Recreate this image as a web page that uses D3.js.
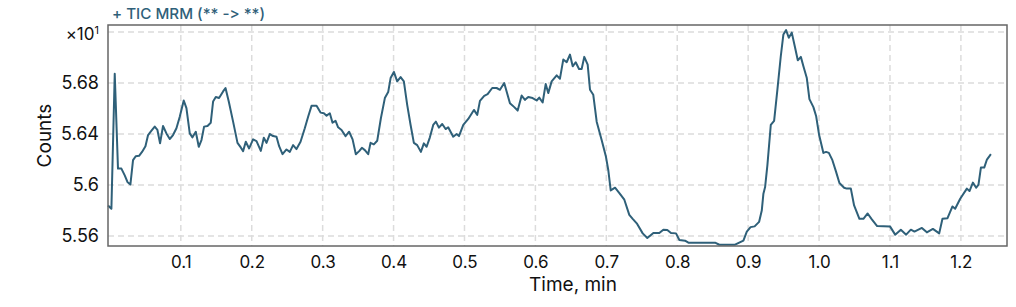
<!DOCTYPE html>
<html>
<head>
<meta charset="utf-8">
<script src="https://cdn.jsdelivr.net/npm/d3@7"></script>
<style>
  html, body { margin: 0; padding: 0; background: #fff; }
  svg { display: block; font-family: Inter, "Liberation Sans", sans-serif; font-feature-settings: "calt" 0, "liga" 0; font-variant-ligatures: none; }
</style>
</head>
<body>
<div id="chart"></div>
<script>
// chart values
const title = '+ TIC MRM (** -> **)';
const xLabel = 'Time, min';
const yLabel = 'Counts';
const xTicks = [0.1, 0.2, 0.3, 0.4, 0.5, 0.6, 0.7, 0.8, 0.9, 1.0, 1.1, 1.2];
const yTicks = [5.56, 5.6, 5.64, 5.68];
const yGrid = [5.56, 5.6, 5.64, 5.68, 5.72];
const yExponent = 1;

const times = [
  -0.0027, 0.0021, 0.0068, 0.0114, 0.0162, 0.0209, 0.0247, 0.0289, 0.0326, 0.0364,
  0.0411, 0.0453, 0.0501, 0.0538, 0.0586, 0.0632, 0.0670, 0.0707, 0.0749, 0.0797,
  0.0844, 0.0890, 0.0938, 0.0985, 0.1041, 0.1079, 0.1126, 0.1164, 0.1211, 0.1253,
  0.1291, 0.1328, 0.1376, 0.1422, 0.1455, 0.1493, 0.1539, 0.1596, 0.1630, 0.1676,
  0.1737, 0.1799, 0.1845, 0.1878, 0.1916, 0.1963, 0.2019, 0.2067, 0.2128, 0.2170,
  0.2208, 0.2255, 0.2301, 0.2349, 0.2386, 0.2434, 0.2490, 0.2537, 0.2583, 0.2631,
  0.2688, 0.2748, 0.2795, 0.2843, 0.2914, 0.2970, 0.3017, 0.3055, 0.3101, 0.3139,
  0.3182, 0.3218, 0.3266, 0.3323, 0.3373, 0.3422, 0.3468, 0.3515, 0.3553, 0.3595,
  0.3642, 0.3675, 0.3722, 0.3769, 0.3821, 0.3877, 0.3924, 0.3958, 0.4004, 0.4051,
  0.4099, 0.4145, 0.4192, 0.4240, 0.4286, 0.4333, 0.4385, 0.4427, 0.4466, 0.4512,
  0.4559, 0.4597, 0.4639, 0.4686, 0.4734, 0.4770, 0.4841, 0.4889, 0.4922, 0.4983,
  0.5053, 0.5133, 0.5180, 0.5218, 0.5278, 0.5326, 0.5391, 0.5453, 0.5500, 0.5560,
  0.5641, 0.5702, 0.5750, 0.5806, 0.5853, 0.5899, 0.5961, 0.6018, 0.6054, 0.6102,
  0.6145, 0.6181, 0.6229, 0.6300, 0.6346, 0.6393, 0.6441, 0.6487, 0.6526, 0.6568,
  0.6615, 0.6652, 0.6689, 0.6737, 0.6770, 0.6816, 0.6864, 0.6934, 0.6995, 0.7028,
  0.7062, 0.7123, 0.7184, 0.7254, 0.7324, 0.7372, 0.7429, 0.7513, 0.7578, 0.7663,
  0.7747, 0.7804, 0.7860, 0.7912, 0.7983, 0.8030, 0.8110, 0.8157, 0.8533, 0.8594,
  0.8815, 0.8933, 0.8981, 0.9034, 0.9091, 0.9154, 0.9192, 0.9215, 0.9239, 0.9271,
  0.9319, 0.9366, 0.9412, 0.9460, 0.9497, 0.9535, 0.9573, 0.9615, 0.9662, 0.9700,
  0.9743, 0.9779, 0.9827, 0.9864, 0.9920, 0.9958, 1.0001, 1.0061, 1.0099, 1.0138,
  1.0188, 1.0240, 1.0287, 1.0353, 1.0391, 1.0448, 1.0494, 1.0569, 1.0625, 1.0685,
  1.0744, 1.0819, 1.1002, 1.1073, 1.1153, 1.1228, 1.1294, 1.1345, 1.1450, 1.1520,
  1.1605, 1.1694, 1.1740, 1.1811, 1.1881, 1.1919, 1.1990, 1.2084, 1.2121, 1.2169,
  1.2216, 1.2248, 1.2282, 1.2329, 1.2367, 1.2423
];

const counts = [
  5.5840, 5.5814, 5.6873, 5.6129, 5.6129, 5.6076, 5.6024, 5.6005, 5.6195, 5.6226,
  5.6229, 5.6260, 5.6305, 5.6392, 5.6426, 5.6458, 5.6432, 5.6327, 5.6463, 5.6405,
  5.6361, 5.6392, 5.6445, 5.6536, 5.6663, 5.6603, 5.6405, 5.6374, 5.6418, 5.6300,
  5.6353, 5.6458, 5.6463, 5.6489, 5.6655, 5.6690, 5.6682, 5.6734, 5.6761, 5.6655,
  5.6497, 5.6331, 5.6295, 5.6266, 5.6339, 5.6287, 5.6358, 5.6345, 5.6268, 5.6371,
  5.6331, 5.6400, 5.6384, 5.6379, 5.6305, 5.6242, 5.6279, 5.6260, 5.6313, 5.6282,
  5.6339, 5.6445, 5.6536, 5.6621, 5.6621, 5.6568, 5.6563, 5.6544, 5.6563, 5.6489,
  5.6503, 5.6453, 5.6432, 5.6384, 5.6418, 5.6358, 5.6242, 5.6266, 5.6292, 5.6274,
  5.6242, 5.6331, 5.6319, 5.6347, 5.6524, 5.6682, 5.6729, 5.6839, 5.6887, 5.6813,
  5.6847, 5.6813, 5.6629, 5.6471, 5.6331, 5.6313, 5.6260, 5.6327, 5.6300, 5.6374,
  5.6471, 5.6497, 5.6450, 5.6479, 5.6439, 5.6453, 5.6379, 5.6400, 5.6384, 5.6471,
  5.6518, 5.6589, 5.6550, 5.6660, 5.6700, 5.6713, 5.6761, 5.6761, 5.6747, 5.6800,
  5.6642, 5.6611, 5.6584, 5.6702, 5.6668, 5.6690, 5.6682, 5.6663, 5.6686, 5.6647,
  5.6792, 5.6721, 5.6813, 5.6860, 5.6834, 5.6984, 5.6963, 5.7023, 5.6931, 5.6963,
  5.6910, 5.6910, 5.7005, 5.6944, 5.6747, 5.6708, 5.6497, 5.6353, 5.6221, 5.6116,
  5.5958, 5.5979, 5.5937, 5.5885, 5.5766, 5.5735, 5.5700, 5.5621, 5.5585, 5.5624,
  5.5624, 5.5650, 5.5648, 5.5624, 5.5621, 5.5569, 5.5564, 5.5548, 5.5548, 5.5532,
  5.5532, 5.5564, 5.5635, 5.5670, 5.5676, 5.5711, 5.5800, 5.5932, 5.5984, 5.6155,
  5.6471, 5.6503, 5.6747, 5.7010, 5.7181, 5.7215, 5.7155, 5.7195, 5.7076, 5.6978,
  5.7005, 5.6931, 5.6839, 5.6674, 5.6611, 5.6542, 5.6392, 5.6252, 5.6260, 5.6252,
  5.6195, 5.6103, 5.6016, 5.5979, 5.5972, 5.5972, 5.5840, 5.5735, 5.5735, 5.5777,
  5.5731, 5.5678, 5.5674, 5.5611, 5.5650, 5.5611, 5.5650, 5.5635, 5.5664, 5.5629,
  5.5656, 5.5621, 5.5735, 5.5740, 5.5832, 5.5814, 5.5893, 5.5972, 5.5953, 5.6019,
  5.5979, 5.6003, 5.6137, 5.6137, 5.6200, 5.6242
];

const width = 1016, height = 307;
const margin = {top: 25, right: 9, bottom: 61, left: 108};
const lineColor = '#2f6079';
const textFont = 'Inter, "Liberation Sans", sans-serif';

const svg = d3.select('#chart').append('svg')
  .attr('width', width)
  .attr('height', height);

const x = d3.scaleLinear()
  .domain([-0.0027, 1.265])
  .range([margin.left, width - margin.right]);
const y = d3.scaleLinear()
  .domain([5.5522, 5.7255])
  .range([height - margin.bottom, margin.top]);

// grid
svg.append('g')
  .attr('class', 'grid-x')
  .selectAll('line')
  .data(xTicks)
  .enter()
    .append('line')
      .attr('x1', d => x(d)).attr('x2', d => x(d))
      .attr('y1', margin.top).attr('y2', height - margin.bottom)
      .attr('stroke', '#dcdcdc')
      .attr('stroke-width', 1.5)
      .attr('stroke-dasharray', '6,4');
svg.append('g')
  .attr('class', 'grid-y')
  .selectAll('line')
  .data(yGrid)
  .enter()
    .append('line')
      .attr('x1', margin.left).attr('x2', width - margin.right)
      .attr('y1', d => y(d)).attr('y2', d => y(d))
      .attr('stroke', '#dcdcdc')
      .attr('stroke-width', 1.5)
      .attr('stroke-dasharray', '6,4');

// axes, labels only
const xAxis = svg.append('g')
  .attr('transform', `translate(0,${height - margin.bottom})`)
  .call(d3.axisBottom(x).tickValues(xTicks).tickSize(0).tickPadding(10).tickFormat(d3.format('.1f')));
xAxis.select('.domain').remove();
xAxis.selectAll('text')
  .attr('font-family', textFont)
  .style('font-size', '17px')
  .attr('fill', '#111');

const yAxis = svg.append('g')
  .attr('transform', `translate(${margin.left},0)`)
  .call(d3.axisLeft(y).tickValues(yTicks).tickSize(0).tickPadding(9).tickFormat(d => String(+d.toFixed(2))));
yAxis.select('.domain').remove();
yAxis.selectAll('text')
  .attr('font-family', textFont)
  .style('font-size', '18px')
  .attr('fill', '#111');

// exponent marker
const expText = svg.append('text')
  .attr('x', margin.left - 9)
  .attr('y', y(5.72) + 8)
  .attr('text-anchor', 'end')
  .attr('fill', '#111')
  .style('font-size', '17px');
expText.append('tspan').text('×10');
expText.append('tspan')
  .attr('dy', -6)
  .style('font-size', '11px')
  .text(yExponent);

// line
const line = d3.line()
  .x((d, i) => x(times[i]))
  .y(d => y(d));
svg.append('path')
  .datum(counts)
  .attr('fill', 'none')
  .attr('stroke', lineColor)
  .attr('stroke-width', 2)
  .attr('stroke-linejoin', 'round')
  .attr('d', line);

// frame
svg.append('rect')
  .attr('x', margin.left)
  .attr('y', margin.top)
  .attr('width', width - margin.left - margin.right)
  .attr('height', height - margin.top - margin.bottom)
  .attr('fill', 'none')
  .attr('stroke', '#666')
  .attr('stroke-width', 1.5);

// titles
svg.append('text')
  .attr('x', margin.left + 4)
  .attr('y', 19)
  .attr('fill', lineColor)
  .style('font-size', '15.2px')
  .style('font-weight', 500)
  .text(title);

svg.append('text')
  .attr('x', 573)
  .attr('y', 291)
  .attr('text-anchor', 'middle')
  .attr('fill', '#111')
  .style('font-size', '19px')
  .text(xLabel);

svg.append('text')
  .attr('transform', `translate(51,${(margin.top + height - margin.bottom) / 2}) rotate(-90)`)
  .attr('text-anchor', 'middle')
  .attr('fill', '#111')
  .style('font-size', '19px')
  .text(yLabel);
</script>
</body>
</html>
